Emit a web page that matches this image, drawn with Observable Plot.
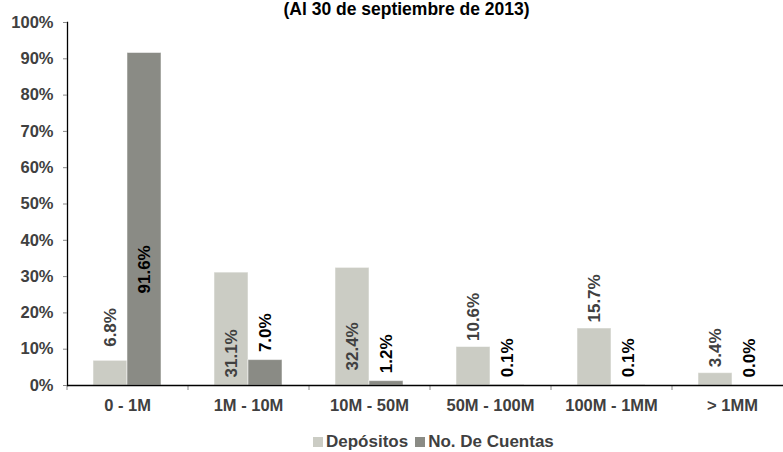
<!DOCTYPE html>
<html><head><meta charset="utf-8">
<script src="https://cdn.jsdelivr.net/npm/d3@7"></script>
<script src="https://cdn.jsdelivr.net/npm/@observablehq/plot@0.6"></script>
<style>
body{margin:0;width:783px;height:452px;overflow:hidden;background:#fff;font-family:"Liberation Sans",Arial,sans-serif;}
#legend{display:flex;align-items:center;height:32px;padding-left:313px;font-weight:bold;font-size:17px;color:#404040;white-space:nowrap;position:relative;top:6px}
.sw{display:inline-block;width:10px;height:10px;margin-right:3px}
.item{display:flex;align-items:center;margin-right:7px}
</style></head><body>
<div id="chart"></div>
<div id="legend"></div>
<script>
const title = "(Al 30 de septiembre de 2013)";
const categories = ["0 - 1M", "1M - 10M", "10M - 50M", "50M - 100M", "100M - 1MM", "> 1MM"];
const series = ["Depósitos", "No. De Cuentas"];
const depositos = [6.8, 31.1, 32.4, 10.6, 15.7, 3.4];
const cuentas = [91.6, 7.0, 1.2, 0.1, 0.1, 0.0];
const yTicks = [0, 10, 20, 30, 40, 50, 60, 70, 80, 90, 100];
const colors = ["#cbccc4", "#8a8b85"];

const dep = categories.map((c, i) => ({cat: c, value: depositos[i], label: depositos[i].toFixed(1) + "%"}));
const cue = categories.map((c, i) => ({cat: c, value: cuentas[i], label: cuentas[i].toFixed(1) + "%"}));

const labelStyle = {text: "label", rotate: -90, textAnchor: "start", fontSize: 17, fontWeight: "bold"};
const depFirst = dep.filter((d, i) => i === 0);
const depAbove = dep.filter((d, i) => [3, 4, 5].includes(i));
const depIn1 = dep.filter((d, i) => i === 1);
const depIn2 = dep.filter((d, i) => i === 2);
const cueIn = cue.filter((d, i) => i === 0);
const cueAbove = cue.filter((d, i) => i > 0);

const chart = Plot.plot({
  width: 783,
  height: 420,
  marginLeft: 67,
  marginRight: 0,
  marginTop: 22,
  marginBottom: 35,
  style: {fontFamily: '"Liberation Sans", Arial, sans-serif', overflow: "visible"},
  x: {domain: categories, range: [67, 793], paddingInner: 0.438, paddingOuter: 0.219},
  y: {domain: [0, 100]},
  marks: [
    Plot.barY(dep, {x: "cat", y: "value", fill: colors[0], insetRight: 34, stroke: "#fff", strokeOpacity: 0.5}),
    Plot.barY(cue, {x: "cat", y: "value", fill: colors[1], insetLeft: 34, stroke: "#fff", strokeOpacity: 0.5}),
    Plot.frame({anchor: "left", stroke: "#000", strokeWidth: 1.3}),
    Plot.axisY({ticks: yTicks, tickFormat: d => d + "%", tickSize: 4, tickPadding: 10, fontSize: 16.5, fontWeight: "bold", fill: "#404040", stroke: "#888", label: null}),
    Plot.axisX({tickSize: 5, tickFormat: () => "", dx: -60.5, stroke: "#888", label: null}),
    Plot.axisX({tickSize: 0, tickPadding: 14, fontSize: 16.5, fontWeight: "bold", fill: "#404040", label: null}),
    Plot.ruleY([0], {stroke: "#000", strokeWidth: 1.5}),
    Plot.text(depFirst, {...labelStyle, x: "cat", y: "value", dx: -17, dy: -14, fill: "#404040"}),
    Plot.text(depAbove, {...labelStyle, x: "cat", y: "value", dx: -17, dy: -6, fill: "#404040"}),
    Plot.text(depIn1, {...labelStyle, x: "cat", y: 0, dx: -17, dy: -8, fill: "#404040"}),
    Plot.text(depIn2, {...labelStyle, x: "cat", y: 0, dx: -17, dy: -15, fill: "#404040"}),
    Plot.text(cueIn, {...labelStyle, x: "cat", y: 0, dx: 17, dy: -92, fill: "#000"}),
    Plot.text(cueAbove, {...labelStyle, x: "cat", y: "value", dx: 17, dy: -8, fill: "#000"}),
    Plot.text([title], {frameAnchor: "top", lineAnchor: "top", dx: -19, dy: -19.5, fontSize: 17.5, fontWeight: "bold", fill: "#000"})
  ]
});
document.getElementById("chart").appendChild(chart);

const legend = document.getElementById("legend");
series.forEach((s, i) => {
  const item = document.createElement("span");
  item.className = "item";
  const sw = document.createElement("span");
  sw.className = "sw";
  sw.style.background = colors[i];
  item.appendChild(sw);
  item.appendChild(document.createTextNode(s));
  legend.appendChild(item);
});
</script>
</body></html>
